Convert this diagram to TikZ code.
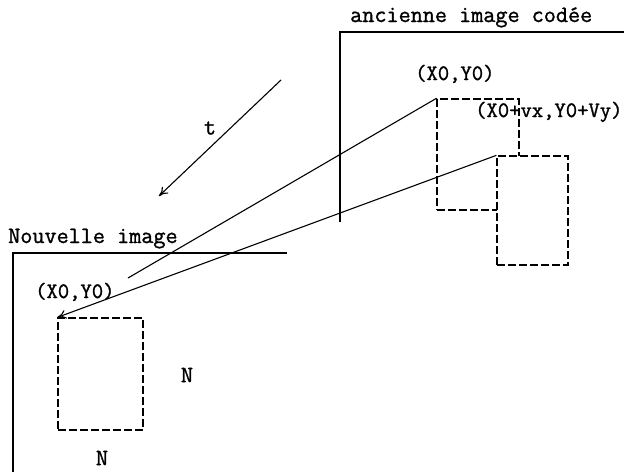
\documentclass[tikz,border=0pt]{standalone}
\usepackage{fontspec}
\usepackage{tikz}
\usetikzlibrary{arrows.meta}
\newfontfamily\machine[FakeBold=1.2]{Latin Modern Mono}

\begin{document}
\begin{tikzpicture}[x=1pt, y=-1pt, >={To[length=9pt, width=9pt]},
				   every node/.style={font=\machine\fontsize{23.5}{25}\selectfont, inner sep=0pt},
				   coord/.style={font=\machine\fontsize{22}{24}\selectfont},
				   frame/.style={line width=1.4pt},
				   bloc/.style={rectangle, draw=black, dash pattern=on 8pt off 3pt, line width=1.3pt, fill=white},
				   link/.style={line width=1.1pt}]
\useasboundingbox (0,0) rectangle (629,472);
% ancienne image
\draw[frame] (624,32) -- (340,32) -- (340,222);
\node[anchor=base west] (ancien) at (350,22) {ancienne image cod\'ee};
% nouvelle image
\draw[frame] (287,253) -- (13,253) -- (13,472);
\node[anchor=base west] (nouveau) at (8,243) {Nouvelle image};

\node[bloc, minimum width=82pt, minimum height=111pt] (A) at (478,154.5) {};
\coordinate (P) at (128,278);
\draw[link] (A.north west) -- (P);
\node[bloc, minimum width=71pt, minimum height=109pt] (B) at (532.5,210.5) {};
\node[bloc, minimum width=85pt, minimum height=112pt] (C) at (100.5,374) {};
\draw[link, ->] (B.north west) -- (C.north west);

\node[coord, anchor=base west] (xa) at (415,80) {(X0,Y0)};
\node[coord, anchor=base west] (xb) at (475,117) {(X0+vx,Y0+Vy)};
\node[coord, anchor=base west] (xc) at (35,298) {(X0,Y0)};
\node (n1) at (187,375) {N};
\node (n2) at (102,458) {N};

\coordinate (T1) at (281,80);
\coordinate (T2) at (159,196);
\draw[link, ->] (T1) -- (T2);
\node (t) at (210,128) {t};
\end{tikzpicture}
\end{document}
